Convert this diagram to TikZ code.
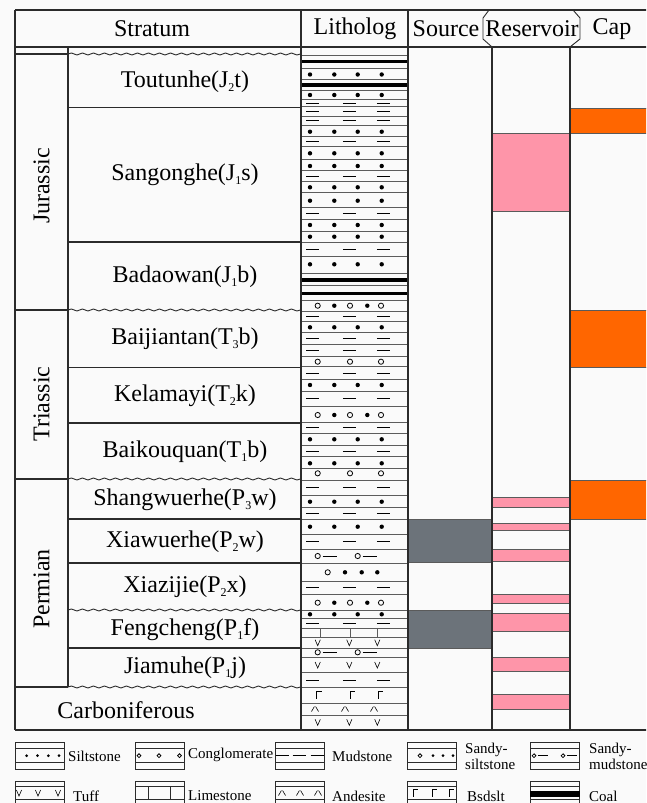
\documentclass[tikz,border=0pt]{standalone}
\usepackage{fontspec}
\setmainfont{Liberation Serif}
\usetikzlibrary{decorations.pathmorphing}

\definecolor{bgc}{HTML}{FAFAFA}
\definecolor{rulec}{HTML}{2B2B2B}
\definecolor{layerc}{HTML}{5C5C5C}
\definecolor{srcgray}{HTML}{6C737A}
\definecolor{respink}{HTML}{FE95A9}
\definecolor{caporange}{HTML}{FF6600}
\definecolor{boxedge}{HTML}{5A5A5A}

% subscript index in formation names
\newcommand{\lidx}[1]{\raisebox{-0.35ex}{\fontsize{12}{12}\selectfont #1}}

% lithology symbols: #1 = y, #2 = list of x positions
\newcommand{\siltrow}[2]{\foreach \px in {#2} \fill (\px,#1) circle[radius=2.2pt];}
\newcommand{\smallsilt}[2]{\foreach \px in {#2} \fill (\px,#1) circle[radius=1.5pt];}
\newcommand{\mudrow}[2]{\foreach \px in {#2} \draw[patline] (\px-6.5,#1) -- (\px+6.5,#1);}
\newcommand{\pebblerow}[2]{\foreach \px in {#2} \draw[pebble] (\px,#1) circle[radius=2.6pt];}
\newcommand{\smallpebble}[2]{\foreach \px in {#2} \draw[pebble] (\px,#1) circle[radius=1.9pt];}
\newcommand{\sandmudrow}[2]{\foreach \px in {#2} {\draw[pebble] (\px,#1) circle[radius=2.6pt]; \draw[patline] (\px+5,#1) -- (\px+19,#1);}}
\newcommand{\tuffrow}[2]{\foreach \px in {#2} \draw[thinpat] (\px-2.6,#1-3) -- (\px,#1+3) -- (\px+2.6,#1-3);}
\newcommand{\bsdrow}[2]{\foreach \px in {#2} \draw[thinpat] (\px,#1+3.5) -- (\px,#1-3.5) -- (\px+5,#1-3.5);}
\newcommand{\androw}[2]{\foreach \px in {#2} {\draw[thinpat] (\px-3.5,#1+2.5) -- (\px-0.6,#1-2.5); \draw[thinpat] (\px+0.6,#1-2.5) -- (\px+3.5,#1+2.5);}}

\begin{document}
\begin{tikzpicture}[x=1pt,y=-1pt,
  grid/.style={draw=rulec,line width=1.1pt},
  heavy/.style={draw=rulec,line width=1.7pt},
  wave/.style={draw=rulec,line width=0.9pt,decorate,decoration={snake,segment length=11pt,amplitude=1pt}},
  lyr/.style={draw=layerc,line width=0.8pt},
  patline/.style={draw=black,line width=0.9pt},
  thinpat/.style={draw=black,line width=0.6pt},
  pebble/.style={draw=black,line width=0.8pt},
  lbl/.style={font=\fontsize{24}{26}\selectfont,inner sep=0pt},
  legtxt/.style={font=\fontsize{15}{15.5}\selectfont,inner sep=0pt,anchor=west,align=left},
  swatch/.style={draw=rulec,line width=0.8pt},
  srcbox/.style={fill=srcgray,draw=boxedge,line width=0.8pt},
  resbox/.style={fill=respink,draw=boxedge,line width=0.8pt},
  capbox/.style={fill=caporange,draw=boxedge,line width=0.8pt}]

\useasboundingbox (0,0) rectangle (646,803);
\clip (0,0) rectangle (646,803);
\fill[bgc] (0,0) rectangle (646,803);

% ---------- coloured intervals ----------
\filldraw[srcbox] (408,519.3) rectangle (492,562.8);
\filldraw[srcbox] (408,610.3) rectangle (492,648.5);

\filldraw[resbox] (492,133) rectangle (570,211);
\filldraw[resbox] (492,497.3) rectangle (570,507.3);
\filldraw[resbox] (492,523.3) rectangle (570,530);
\filldraw[resbox] (492,549.3) rectangle (570,561);
\filldraw[resbox] (492,594.3) rectangle (570,603.3);
\filldraw[resbox] (492,613.3) rectangle (570,631.7);
\filldraw[resbox] (492,657.7) rectangle (570,671.7);
\filldraw[resbox] (492,694.3) rectangle (570,709.3);

\filldraw[capbox] (570,108) rectangle (650,133);
\filldraw[capbox] (570,310) rectangle (650,367.5);
\filldraw[capbox] (570,480) rectangle (650,519.3);

% ---------- litholog column ----------
\foreach \ly in {55.3,68.3,79.5,90,99,106.7,116,125,136.7,146.7,159.3,170,181.7,192.7,
  207.3,219.3,231,242.7,256,273.3,285,300,311,321.7,332.3,344.3,356,366.7,379,391.7,
  406,422.7,433.3,445.7,456.7,468.3,480,495,507.7,519.3,534,549,563.3,581,594.3,610,
  618.3,628.3,637.3,648.3,657.3,672.3,687.7,703.3,715}
  \draw[lyr] (301,\ly) -- (408,\ly);
% coal seams
\fill (301,59.5) rectangle (408,63);
\fill (301,83) rectangle (408,87);
\fill (301,278) rectangle (408,282);
\fill (301,291.5) rectangle (408,295);
% siltstone
\foreach \ry in {74.5,95,131.7,153.3,166,187.3,200.7,225,236.7,264.3,327.3,385,439.3,463.3,501.7,526.7,614.3}
  {\siltrow{\ry}{310,334.3,357.7,381.7}}
% mudstone
\foreach \ry in {103,111,120.5,141.7,176,213.3,249.3,316,338.3,350.7,373.3,398.3,427.7,451.7,487.3,513.3,541,587.7,623.3,680}
  {\mudrow{\ry}{312.7,349.3,383.3}}
% conglomerate with silt grains
\foreach \ry in {305.7,415,602.7}
  {\pebblerow{\ry}{317.7,350,381}\siltrow{\ry}{334.3,367.3}}
% conglomerate
\foreach \ry in {361.7,473.3}
  {\pebblerow{\ry}{317.7,350,381}}
% sandy mudstone
\foreach \ry in {556,652.3}
  {\sandmudrow{\ry}{317.7,357.7}}
% sandy siltstone
\pebblerow{572.3}{327.7}
\siltrow{572.3}{345,361.7,377.3}
% limestone
\foreach \px in {320,350,377.7} \draw[lyr] (\px,628.3) -- (\px,637.3);
% tuff, basalt, andesite
\foreach \ry in {642.7,665,722.3} {\tuffrow{\ry}{317.7,349.3,377.3}}
\bsdrow{695}{316.7,350,378}
\androw{709}{315,345,374}

% ---------- table frame ----------
\draw[heavy] (15,10) -- (650,10);
\draw[heavy] (15,730) -- (650,730);
\draw[grid] (15,10) -- (15,730);
\draw[grid] (15,47) -- (650,47);
\draw[grid] (301,10) -- (301,730);
\draw[grid] (408,10) -- (408,730);
\draw[grid] (492,47) -- (492,730);
\draw[grid] (570,47) -- (570,730);
\draw[grid] (68,47) -- (68,687);
% bracketed header cell
\draw[grid,line width=0.9pt] (489,10) -- (483,18) -- (483,39) -- (492,47);
\draw[grid,line width=0.9pt] (573,10) -- (580,18) -- (580,39) -- (570,47);

% period boundaries
\foreach \ly in {54,310,479,687} \draw[grid] (15,\ly) -- (68,\ly);
% formation boundaries
\foreach \ly in {107.7,242,367.5,423,519,563,648} \draw[grid] (68,\ly) -- (301,\ly);
% unconformities
\foreach \ly in {54,310,479,610,687} \draw[wave] (68,\ly) -- (301,\ly);

% ---------- header ----------
\node[lbl] (hStratum) at (152,29) {Stratum};
\node[lbl] (hLith) at (355,29) {Litholog};
\node[lbl] (hSource) at (446,29) {Source};
\node[lbl] (hRes) at (532,29) {Reservoir};
\node[lbl] (hCap) at (612,29) {Cap};

% ---------- periods ----------
\node[lbl,rotate=90] (pJur) at (41.5,186) {Jurassic};
\node[lbl,rotate=90] (pTri) at (41.5,404) {Triassic};
\node[lbl,rotate=90] (pPer) at (41.5,589) {Permian};
\node[lbl] (pCarb) at (126,710) {Carboniferous};

% ---------- formations ----------
\node[lbl] (fJ2t) at (185,82) {Toutunhe(J\lidx{2}t)};
\node[lbl] (fJ1s) at (185,175) {Sangonghe(J\lidx{1}s)};
\node[lbl] (fJ1b) at (185,277) {Badaowan(J\lidx{1}b)};
\node[lbl] (fT3b) at (185,339) {Baijiantan(T\lidx{3}b)};
\node[lbl] (fT2k) at (185,396) {Kelamayi(T\lidx{2}k)};
\node[lbl] (fT1b) at (185,452) {Baikouquan(T\lidx{1}b)};
\node[lbl] (fP3w) at (185,500) {Shangwuerhe(P\lidx{3}w)};
\node[lbl] (fP2w) at (185,542) {Xiawuerhe(P\lidx{2}w)};
\node[lbl] (fP2x) at (185,587) {Xiazijie(P\lidx{2}x)};
\node[lbl] (fP1f) at (185,630) {Fengcheng(P\lidx{1}f)};
\node[lbl] (fP1j) at (185,668) {Jiamuhe(P\lidx{1}j)};

% ---------- legend ----------
\foreach \sx in {15,135,275,407,530} {
  \draw[swatch] (\sx,742.7) rectangle (\sx+49.5,769);
  \draw[swatch] (\sx,748.3) -- (\sx+49.5,748.3);
  \draw[swatch] (\sx,762.7) -- (\sx+49.5,762.7);
  \draw[swatch] (\sx,781.5) rectangle (\sx+49.5,808);
  \draw[swatch] (\sx,786.8) -- (\sx+49.5,786.8);
  \draw[swatch] (\sx,799.5) -- (\sx+49.5,799.5);
}
\smallsilt{755.7}{26.7,37.5,48.3,59}
\smallpebble{755.7}{139,159,179.5}
\mudrow{755.7}{282,299,317}
\smallpebble{755.7}{420}
\smallsilt{755.7}{433,443,453}
\foreach \px in {534,563} {\draw[pebble] (\px,755.7) circle[radius=1.9pt]; \draw[patline] (\px+4,755.7) -- (\px+14,755.7);}
\tuffrow{793}{19,38,58}
\foreach \px in {148,170} \draw[swatch] (\px,786.8) -- (\px,799.5);
\androw{793}{282,300,318}
\bsdrow{793}{413,432,449}
\fill (530,790.5) rectangle (579.5,797);

\node[legtxt] (lgSilt) at (68,756) {Siltstone};
\node[legtxt] (lgCgl) at (188,755) {Conglomerate};
\node[legtxt] (lgMud) at (332,756) {Mudstone};
\node[legtxt] (lgSSilt) at (465,756.5) {Sandy-\\siltstone};
\node[legtxt] (lgSMud) at (589,756.5) {Sandy-\\mudstone};
\node[legtxt] (lgTuff) at (73,796) {Tuff};
\node[legtxt] (lgLime) at (188,796) {Limestone};
\node[legtxt] (lgAnd) at (332,796) {Andesite};
\node[legtxt] (lgBsd) at (467,796) {Bsdslt};
\node[legtxt] (lgCoal) at (589,796) {Coal};
\end{tikzpicture}
\end{document}
